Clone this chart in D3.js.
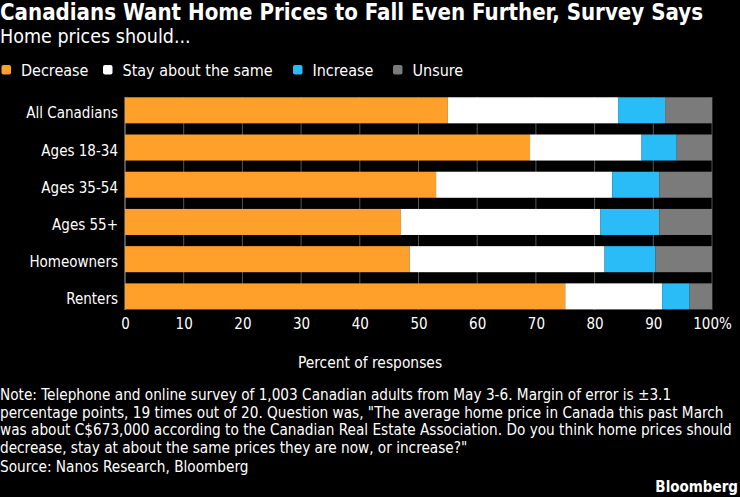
<!DOCTYPE html>
<html><head><meta charset="utf-8">
<script src="https://cdn.jsdelivr.net/npm/d3@7"></script>
<style>
html,body{margin:0;padding:0;background:#000;}
svg{display:block;}
text{font-family:"DejaVu Sans Condensed","DejaVu Sans",sans-serif;fill:#fff;}
</style></head><body>
<svg id="c" width="740" height="497"></svg>
<script>
const categories = ["All Canadians","Ages 18-34","Ages 35-54","Ages 55+","Homeowners","Renters"];
const seriesNames = ["Decrease","Stay about the same","Increase","Unsure"];
const decrease = [55, 69, 53, 47, 48.5, 75];
const stay     = [29, 19, 30, 34, 33.2, 16.5];
const increase = [8, 6, 8, 10, 8.7, 4.7];
const unsure   = [8, 6, 9, 9, 9.6, 3.8];
const tickValues = [0,10,20,30,40,50,60,70,80,90,100];
const colors = ["#ffa02a","#ffffff","#29bcf7","#7b7b7b"];

const svg = d3.select("#c");
svg.append("rect").attr("width",740).attr("height",497).attr("fill","#000");

const x = d3.scaleLinear().domain([0,100]).range([125,712]);
const y = d3.scaleBand().domain(categories).range([91.7,315]).paddingInner(0.3).paddingOuter(0.15);

// Title
svg.append("text").attr("x",0).attr("y",20).attr("font-size",22.1).attr("font-weight","bold")
  .text("Canadians Want Home Prices to Fall Even Further, Survey Says");
svg.append("text").attr("x",0).attr("y",43).attr("font-size",19.5)
  .text("Home prices should...");

// Legend
const legendX = [1.5, 103, 293, 393];
const lg = svg.append("g");
seriesNames.forEach((n,i)=>{
  lg.append("rect").attr("x",legendX[i]).attr("y",65).attr("width",9.5).attr("height",9.5).attr("rx",2).attr("fill",colors[i]);
  lg.append("text").attr("x",legendX[i]+19.5).attr("y",75.5).attr("font-size",16).text(n);
});

// grid
const grid = svg.append("g");
tickValues.forEach(t=>{
  grid.append("line").attr("x1",x(t)).attr("x2",x(t)).attr("y1",97).attr("y2",310)
    .attr("stroke", t===0 ? "#aaaaaa" : "#555").attr("stroke-width",1);
});

// stacked data
const data = categories.map((c,i)=>({cat:c, Decrease:decrease[i], "Stay about the same":stay[i], Increase:increase[i], Unsure:unsure[i]}));
const stack = d3.stack().keys(seriesNames)(data);
svg.append("g").selectAll("g").data(stack).join("g").attr("fill",(d,i)=>colors[i])
  .selectAll("rect").data(d=>d).join("rect")
  .attr("x",d=>x(d[0])).attr("width",d=>x(d[1])-x(d[0]))
  .attr("y",d=>y(d.data.cat)).attr("height",y.bandwidth());

// y labels
svg.append("g").selectAll("text").data(categories).join("text")
  .attr("x",118).attr("y",d=>y(d)+y.bandwidth()/2+8).attr("text-anchor","end").attr("font-size",15)
  .text(d=>d);

// x axis
const xAxis = d3.axisBottom(x).tickValues(tickValues).tickSize(0).tickPadding(0)
  .tickFormat(d=> d===100 ? "100%" : d);
const ax = svg.append("g").attr("transform","translate(0,318)").call(xAxis);
ax.select(".domain").remove();
ax.selectAll("text").attr("font-size",15).attr("fill","#fff").attr("dy","0.71em")
  .style("font-family",'"DejaVu Sans Condensed","DejaVu Sans",sans-serif');

svg.append("text").attr("x",370).attr("y",368).attr("text-anchor","middle").attr("font-size",15.4)
  .text("Percent of responses");

// notes
const notes = [
 "Note: Telephone and online survey of 1,003 Canadian adults from May 3-6. Margin of error is \u00b13.1",
 "percentage points, 19 times out of 20. Question was, \"The average home price in Canada this past March",
 "was about C$673,000 according to the Canadian Real Estate Association. Do you think home prices should",
 "decrease, stay at about the same prices they are now, or increase?\""
];
notes.forEach((t,i)=>{
  svg.append("text").attr("x",0).attr("y",400+i*17.6).attr("font-size",15.2).text(t);
});
svg.append("text").attr("x",0).attr("y",472).attr("font-size",15.2).text("Source: Nanos Research, Bloomberg");
svg.append("text").attr("x",738).attr("y",492).attr("text-anchor","end").attr("font-size",15).attr("font-weight","bold").text("Bloomberg");
</script></body></html>
